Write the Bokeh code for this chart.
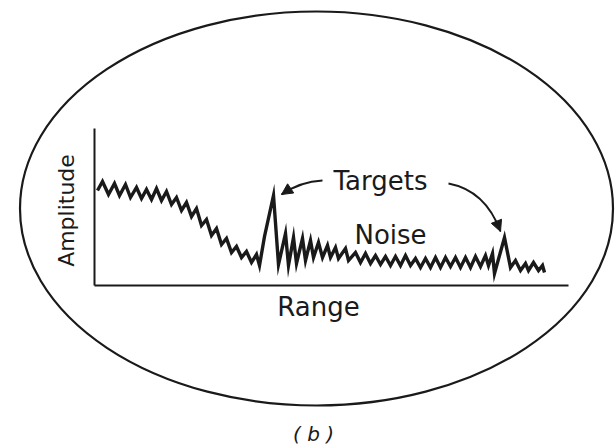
import numpy as np
from bokeh.plotting import figure
from bokeh.models import Range1d, Arrow, NormalHead
from bokeh.core.properties import value
from bokeh.embed import file_html
from bokeh.resources import INLINE

# Echo trace: range (arbitrary units) vs amplitude (arbitrary units)
range_vals = [0.6, 1.6, 2.8, 4.0, 5.0, 6.2, 7.2, 8.4, 9.4, 10.4, 11.4, 12.4, 13.4, 14.4,
              15.4, 16.4, 17.4, 18.4, 19.4, 20.4, 21.4, 22.4, 23.4, 24.4, 25.4, 26.4,
              27.4, 28.4, 29.4, 30.4, 31.4, 32.4, 33.0, 34.0, 35.8, 36.8, 38.2, 38.8,
              39.8, 40.4, 41.6, 42.2, 43.2, 43.8, 44.8, 45.6, 46.6, 47.2, 48.2, 48.8,
              50.2, 50.8, 52.2, 53.2, 54.2, 55.2, 56.2, 57.2, 58.2, 59.2, 60.2, 61.2,
              62.2, 63.2, 64.2, 65.2, 66.2, 67.2, 68.2, 69.2, 70.2, 71.2, 72.2, 73.2,
              74.2, 75.2, 76.2, 77.2, 78.2, 78.8, 79.6, 80.0, 82.0, 83.2, 84.2, 85.2,
              86.2, 86.8, 87.8, 88.8, 89.6, 90.0]
amplitude_vals = [47.5, 52, 45.5, 51, 45, 50.5, 44, 49, 43.5, 48, 43, 48.5, 42.5, 47,
                  40.5, 44, 37.5, 41.5, 34.5, 38.5, 30, 33, 25, 28.5, 20.5, 23.5,
                  16.5, 19.5, 14, 17, 11.5, 15.5, 10, 24.5, 45, 10.5, 26, 10,
                  24, 11, 23.5, 12.5, 22.5, 14, 21.5, 14, 20, 14, 19, 13.5,
                  18.5, 12.5, 16.5, 11.5, 16, 11, 15, 10.5, 14.5, 10, 14.5, 10,
                  15, 10, 13.5, 9, 13.5, 9, 14, 9, 14, 9.5, 14, 9,
                  14, 9, 14.5, 9.5, 15, 10, 16, 6, 24, 9, 12.5, 7.5,
                  11, 7.5, 11.5, 7.5, 10, 6.5]

axis_range_max = 94.8
axis_amplitude_max = 78.5

labels = ["Amplitude", "Range", "Targets", "Noise", "( b )"]

INK = "#1a1a1a"
FONT = "DejaVu Sans"

p = figure(width=616, height=448, output_backend="svg", toolbar_location=None,
           x_range=Range1d(-18.8, 104.4), y_range=Range1d(-81.5, 142.5),
           min_border=0, outline_line_color=None, background_fill_color="white",
           border_fill_color="white")
p.axis.visible = False
p.grid.visible = False

# scope outline
p.ellipse(x=[44.4], y=[38.5], width=[118.6], height=[197], fill_color=None,
          line_color=INK, line_width=2.2)

# inner axes
p.line([0, axis_range_max], [0, 0], line_color=INK, line_width=2)
p.line([0, 0], [0, axis_amplitude_max], line_color=INK, line_width=2)

# trace
p.line(range_vals, amplitude_vals, line_color=INK, line_width=3.4, line_join="miter")

# arrows
p.quadratic(x0=[45.6], y0=[52.5], x1=[37.4], y1=[45.5], cx=[41.2], cy=[52],
            line_color=INK, line_width=1.8)
p.add_layout(Arrow(end=NormalHead(size=11, fill_color=INK, line_color=INK),
                   x_start=39.2, y_start=48.5, x_end=37.4, y_end=45.5,
                   line_color=INK, line_width=1.8))
p.quadratic(x0=[70.8], y0=[51], x1=[81.2], y1=[27], cx=[78.2], cy=[47.5],
            line_color=INK, line_width=1.8)
p.add_layout(Arrow(end=NormalHead(size=11, fill_color=INK, line_color=INK),
                   x_start=80.4, y_start=32, x_end=81.2, y_end=27,
                   line_color=INK, line_width=1.8))

# texts
p.text(x=[-5.6], y=[37.5], text=[labels[0]], angle=np.pi / 2,
       text_font=value(FONT), text_font_size="22px", text_color=INK,
       text_align="center", text_baseline="middle")
p.text(x=[44.8, 57.2, 59.2], y=[-10.5, 52.5, 25.5], text=labels[1:4],
       text_font=value(FONT), text_font_size="26px", text_color=INK,
       text_align="center", text_baseline="middle")
p.text(x=[43.8], y=[-74], text=[labels[4]], text_font=value(FONT),
       text_font_size="20px", text_font_style="italic", text_color=INK,
       text_align="center", text_baseline="middle")

open("out.html", "w").write(file_html(p, INLINE))
